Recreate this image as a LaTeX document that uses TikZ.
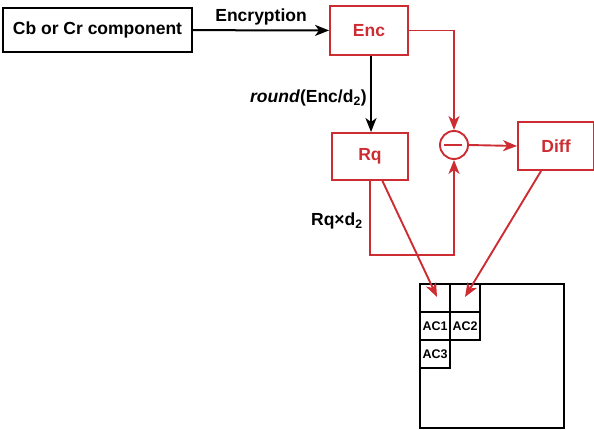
\documentclass[tikz,border=0pt]{standalone}
\usepackage{fontspec}
\setmainfont{Liberation Sans}
\usetikzlibrary{arrows.meta}
\definecolor{dred}{RGB}{205,45,50}
\begin{document}
\begin{tikzpicture}[x=1pt,y=-1pt,
  box/.style={draw,line width=2.1pt,inner sep=0pt,font=\bfseries\fontsize{17.5}{20}\selectfont},
  rbox/.style={box,draw=dred,text=dred,line width=1.9pt},
  cell/.style={draw,line width=1.8pt,outer sep=0pt,minimum width=30pt,minimum height=28pt,inner sep=0pt,font=\bfseries\fontsize{12.5}{14}\selectfont},
  arr/.style={line width=2pt,-{Stealth[length=14pt,width=11pt,inset=4pt]}},
  rarr/.style={arr,draw=dred,line width=1.9pt},
  lab/.style={font=\bfseries\fontsize{17.5}{20}\selectfont}]
\useasboundingbox (0,0) rectangle (594,430);
\node[box,minimum width=189pt,minimum height=44pt] (cb) at (97.5,30) {Cb or Cr component};
\node[rbox,minimum width=78pt,minimum height=49pt] (enc) at (369,30.5) {Enc};
\node[rbox,minimum width=76pt,minimum height=47pt] (rq) at (370,156.5) {Rq};
\node[rbox,minimum width=76pt,minimum height=48pt] (diff) at (556,146) {Diff};
\node[circle,draw=dred,line width=1.9pt,minimum size=28pt,inner sep=0pt] (minus) at (454,145) {};
\draw[dred,line width=2.2pt] (minus.west) ++(5,0) -- ++(18,0);
\draw[arr] (cb) -- node[lab,above=1pt] {Encryption} (enc);
\draw[arr] (enc.south) ++(2,0) coordinate (es) -- node[lab,left=0pt,yshift=-4pt] {\textit{round}(Enc/d\textsubscript{2})} (es |- rq.north);
\draw[rarr] (enc.east) -| (minus.north);
\draw[rarr] (minus.east) -- (diff.west);
\coordinate (rb) at (370,255);
\draw[rarr] (rq.south) -- (rb) node[pos=0.5,left=3pt,black,lab,yshift=-3pt] {Rq×d\textsubscript{2}} -| (minus.south);
% big square
\node[draw,line width=2pt,outer sep=0pt,minimum width=144pt,minimum height=144pt,inner sep=0pt] (big) at (492,356) {};
\node[cell,anchor=north west] (c0) at (big.north west) {};
\node[cell,anchor=west] (c1) at (c0.east) {};
\node[cell,anchor=north] (ac1) at (c0.south) {AC1};
\node[cell,anchor=north] (ac2) at (c1.south) {AC2};
\node[cell,anchor=north] (ac3) at (ac1.south) {AC3};
\coordinate (t1) at (437,297);
\coordinate (t2) at (465,297);
\draw[rarr] (382,180) -- (t1);
\draw[rarr] (diff.south west) ++(24,0) -- (t2);
\end{tikzpicture}
\end{document}
